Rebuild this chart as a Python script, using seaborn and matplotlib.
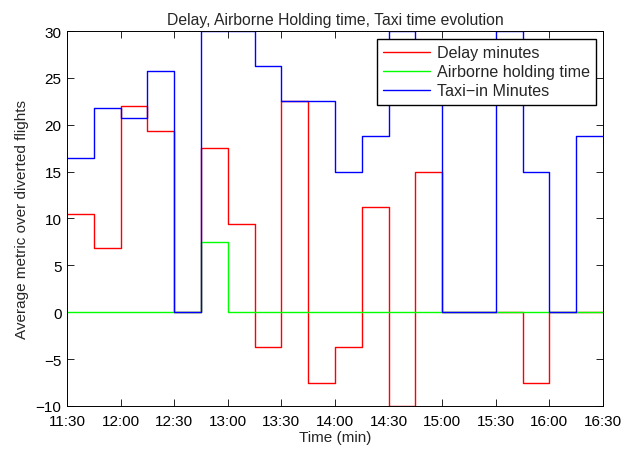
import numpy as np
import pandas as pd
import matplotlib
matplotlib.use("Agg")
import matplotlib.pyplot as plt
import seaborn as sns

# Pas de 15 minutes de 11:30 a 16:30
times = ["11:30", "11:45", "12:00", "12:15", "12:30", "12:45", "13:00", "13:15",
         "13:30", "13:45", "14:00", "14:15", "14:30", "14:45", "15:00", "15:15",
         "15:30", "15:45", "16:00", "16:15", "16:30"]
delay = [10.5, 6.8, 22.0, 19.3, 0.0, 17.5, 9.4, -3.75, 22.5, -7.5, -3.75, 11.25,
         -10.0, 15.0, 0.0, 0.0, 0.0, -7.5, 0.0, 0.0, 0.0]
airborne = [0, 0, 0, 0, 0, 7.5, 0, 0, 0, 0, 0, 0, 0, 0, 0, 0, 0, 0, 0, 0, 0]
taxi_in = [16.5, 21.8, 20.75, 25.7, 0.0, 30.0, 30.0, 26.25, 22.5, 22.5, 15.0, 18.75,
           30.0, 25.0, 0.0, 0.0, 30.0, 15.0, 0.0, 18.75, 18.75]
tick_labels = ["11:30", "12:00", "12:30", "13:00", "13:30", "14:00", "14:30",
               "15:00", "15:30", "16:00", "16:30"]

def to_min(t):
    h, m = t.split(":")
    return int(h) * 60 + int(m)

x = [to_min(t) for t in times]
df = pd.DataFrame({"x": x, "delay": delay, "airborne": airborne, "taxi": taxi_in})

sns.set_style("white")
plt.rcParams["font.family"] = ["Liberation Sans", "DejaVu Sans"]
plt.rcParams["xtick.direction"] = "in"
plt.rcParams["ytick.direction"] = "in"

fig = plt.figure(figsize=(6.24, 4.52), dpi=100)
ax = fig.add_axes([0.1074, 0.0996, 0.8589, 0.8296])

sns.lineplot(data=df, x="x", y="delay", ax=ax, color="#ff0000", lw=1,
             drawstyle="steps-post", label="Delay minutes")
sns.lineplot(data=df, x="x", y="airborne", ax=ax, color="#00ff00", lw=1,
             drawstyle="steps-post", label="Airborne holding time")
sns.lineplot(data=df, x="x", y="taxi", ax=ax, color="#0000ff", lw=1,
             drawstyle="steps-post", label="Taxi\u2212in Minutes")

ax.set_xlim(to_min("11:30"), to_min("16:30"))
ax.set_ylim(-10, 30)
ax.set_xticks([to_min(t) for t in tick_labels])
ax.set_xticklabels(tick_labels)
ax.set_yticks(np.arange(-10, 31, 5))
ax.set_yticklabels([str(v).replace("-", "\u2212") for v in range(-10, 31, 5)])
ax.tick_params(axis="both", labelsize=11, length=5, width=0.6, colors="black",
               top=True, right=True, bottom=True, left=True)
ax.tick_params(axis="x", pad=6)
ax.tick_params(axis="y", pad=4)
for s in ax.spines.values():
    s.set_color("black")
    s.set_linewidth(0.7)

ax.set_title("Delay, Airborne Holding time, Taxi time evolution", fontsize=11.3, pad=5)
ax.set_xlabel("Time (min)", fontsize=11, labelpad=1)
ax.set_ylabel("Average metric over diverted flights", fontsize=11, labelpad=5)

leg = ax.legend(loc="upper right", bbox_to_anchor=(0.987, 0.979), fontsize=11.6,
                frameon=True, fancybox=False, framealpha=1, edgecolor="black",
                handlelength=2.9, borderpad=0.4, labelspacing=0.25, handletextpad=0.4,
                borderaxespad=0)
leg.get_frame().set_linewidth(1.0)

fig.savefig("out.png", dpi=100)
